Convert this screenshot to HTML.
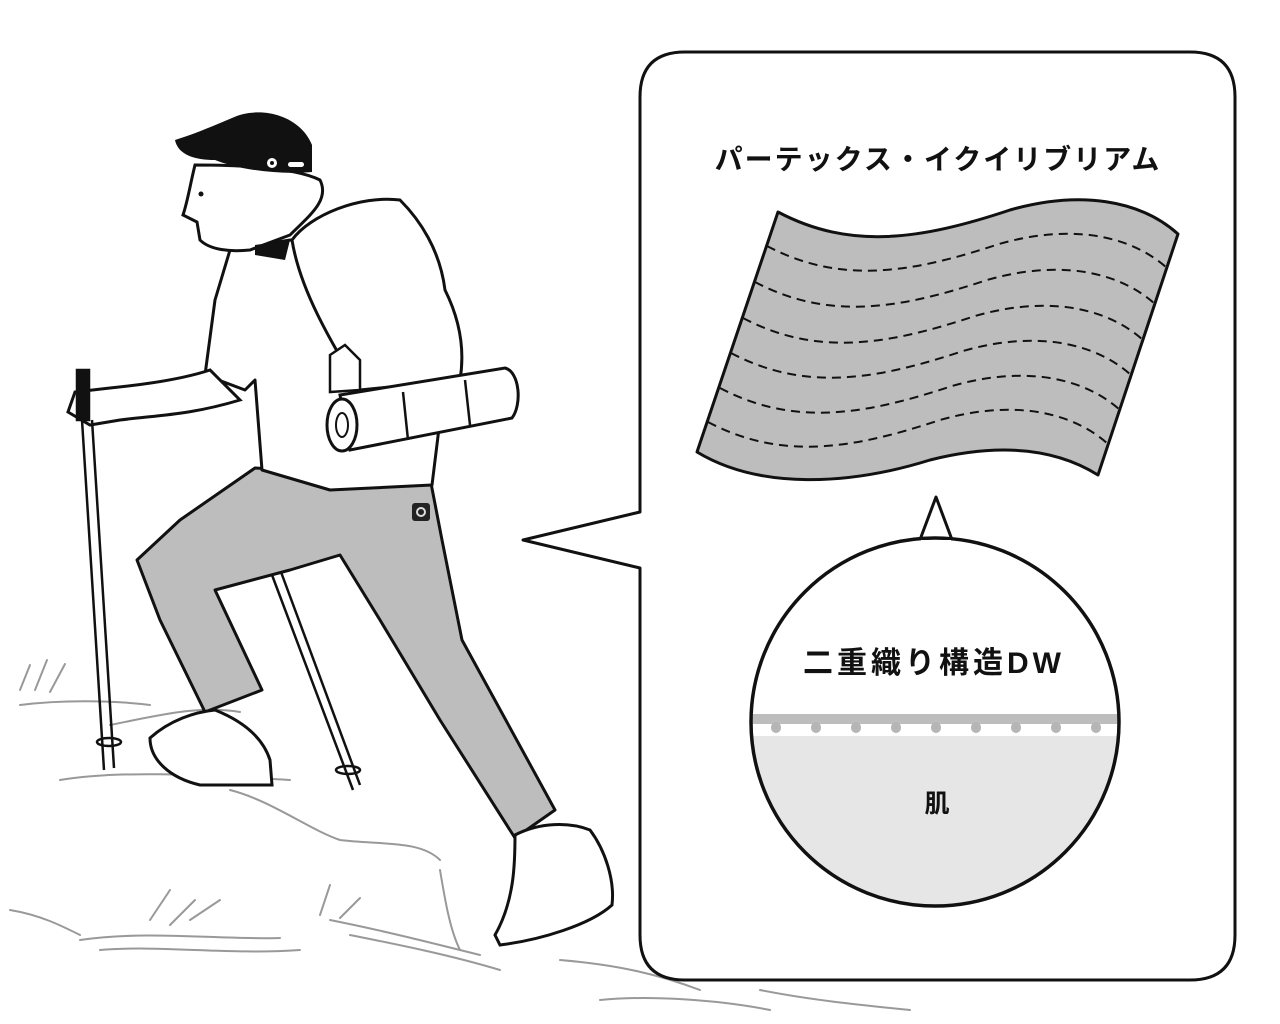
<!DOCTYPE html>
<html><head><meta charset="utf-8"><style>
html,body{margin:0;padding:0;background:#fff;}
svg{display:block;}
text{font-family:"Liberation Sans","Noto Sans CJK JP",sans-serif;font-weight:bold;fill:#111;}
</style></head><body>
<svg width="1280" height="1024" viewBox="0 0 1280 1024" xmlns="http://www.w3.org/2000/svg">
<defs>
<clipPath id="fab"><path d="M778,212 C850,250 920,240 1010,210 C1080,190 1140,200 1178,234 L1098,475 C1050,445 990,445 930,460 C850,485 760,490 697,452 Z"/></clipPath>
<clipPath id="circ"><circle cx="935" cy="722" r="184"/></clipPath>
</defs>

<!-- ground -->
<g fill="none" stroke="#999" stroke-width="2" stroke-linecap="round">
<path d="M20,705 C60,700 110,700 150,705"/>
<path d="M110,725 C160,715 200,705 240,712"/>
<path d="M20,690 l10,-25 M35,690 l12,-30 M50,692 l15,-28"/>
<path d="M60,780 C120,770 200,775 290,780"/>
<path d="M230,790 C270,800 310,830 340,840 C380,845 420,840 440,860"/>
<path d="M440,870 C445,900 450,930 460,950"/>
<path d="M80,940 C150,930 220,940 280,938 M100,950 C160,945 230,955 300,950"/>
<path d="M150,920 l20,-30 M170,925 l25,-25 M190,920 l30,-20 M320,915 l10,-30 M340,918 l20,-20"/>
<path d="M330,920 C380,930 420,940 480,955 M350,935 C400,945 450,955 500,970"/>
<path d="M560,960 C620,965 660,975 700,990 M600,1000 C650,995 720,1000 770,1010 M760,990 C810,1000 860,1005 910,1010"/>
<path d="M10,910 C40,915 60,925 80,935"/>
</g>

<!-- pole 2 -->
<g stroke="#111" stroke-width="2.5" fill="none">
<path d="M272,575 L353,790 M281,572 L360,785"/>
<ellipse cx="348" cy="770" rx="12" ry="4"/>
</g>

<!-- pants -->
<path d="M255,468 L430,478 L442,540 L462,640 L555,810 L515,838 L440,720 L380,620 L340,555 L290,570 L215,590 L262,690 L205,712 L160,620 L137,560 L180,520 Z" fill="#bdbdbd" stroke="#111" stroke-width="3" stroke-linejoin="round"/>
<rect x="412" y="503" width="18" height="18" rx="3" fill="#222"/><circle cx="421" cy="512" r="4" fill="none" stroke="#ddd" stroke-width="2"/>

<!-- shoes -->
<path d="M150,738 C170,720 195,712 215,710 C240,720 262,735 270,760 L272,785 L200,785 C170,778 150,760 150,738 Z" fill="#fff" stroke="#111" stroke-width="3"/>
<path d="M515,835 C540,822 570,822 590,830 C605,850 615,880 612,905 C590,925 540,940 500,945 L495,935 C515,900 515,860 515,835 Z" fill="#fff" stroke="#111" stroke-width="3"/>

<!-- shirt/torso -->
<path d="M230,250 L290,240 L360,250 L420,290 L440,420 L432,485 L330,490 L262,470 L255,380 L245,390 L205,375 L215,300 Z" fill="#fff" stroke="#111" stroke-width="3" stroke-linejoin="round"/>
<!-- arm -->
<path d="M210,370 C180,380 140,385 110,388 L75,392 L68,412 L90,425 L120,420 C160,415 190,415 240,400 Z" fill="#fff" stroke="#111" stroke-width="3"/>

<!-- pole 1 -->
<g stroke="#111" stroke-width="2.5" fill="none">
<rect x="77" y="370" width="12" height="50" fill="#111"/>
<path d="M82,420 L104,770 M92,420 L114,768"/>
<ellipse cx="109" cy="742" rx="12" ry="4"/>
</g>

<!-- backpack -->
<path d="M292,240 C310,215 360,195 400,200 C420,220 440,250 445,290 C460,320 465,350 460,380 L360,390 C330,340 300,290 292,240 Z" fill="#fff" stroke="#111" stroke-width="3"/>
<path d="M330,355 L345,345 L360,360 L360,390 L330,392 Z" fill="#fff" stroke="#111" stroke-width="2.5"/>
<!-- bedroll -->
<path d="M340,395 L505,368 C520,372 522,405 512,418 L350,450 Z" fill="#fff" stroke="#111" stroke-width="3"/>
<ellipse cx="342" cy="425" rx="15" ry="26" fill="#fff" stroke="#111" stroke-width="3"/>
<ellipse cx="342" cy="425" rx="6" ry="12" fill="none" stroke="#111" stroke-width="2"/>
<path d="M403,392 L408,440 M465,380 L470,425" stroke="#111" stroke-width="2.5" fill="none"/>

<!-- head -->
<path d="M195,165 C190,185 188,200 183,215 L197,222 L200,240 C210,250 230,252 250,250 L290,235 C310,215 330,200 320,180 C300,170 260,165 195,165 Z" fill="#fff" stroke="#111" stroke-width="3"/>
<path d="M255,245 L290,240 L285,260 L255,255 Z" fill="#111"/>
<!-- cap -->
<path d="M175,140 C200,132 215,125 232,118 C260,105 300,115 312,145 L312,172 C280,175 240,170 215,160 C195,160 178,155 175,140 Z" fill="#111"/>
<circle cx="272" cy="163" r="5" fill="#fff"/><circle cx="272" cy="163" r="2" fill="#111"/>
<rect x="288" y="162" width="16" height="5" rx="2.5" fill="#fff"/>
<circle cx="201" cy="194" r="2.5" fill="#111"/>

<!-- bubble -->
<path d="M685,52 L1190,52 Q1235,52 1235,97 L1235,935 Q1235,980 1190,980 L685,980 Q640,980 640,935 L640,568 L523,540 L640,512 L640,97 Q640,52 685,52 Z" fill="#fff" stroke="#111" stroke-width="3" stroke-linejoin="round"/>
<text x="938" y="169" font-size="28" letter-spacing="2" text-anchor="middle">パーテックス・イクイリブリアム</text>

<!-- fabric -->
<path d="M778,212 C850,250 920,240 1010,210 C1080,190 1140,200 1178,234 L1098,475 C1050,445 990,445 930,460 C850,485 760,490 697,452 Z" fill="#bdbdbd"/>
<g clip-path="url(#fab)" fill="none" stroke="#111" stroke-width="2" stroke-dasharray="9,6">
<path transform="translate(-11,34)" d="M778,212 C850,250 920,240 1010,210 C1080,190 1140,200 1178,234"/>
<path transform="translate(-23,70)" d="M778,212 C850,250 920,240 1010,210 C1080,190 1140,200 1178,234"/>
<path transform="translate(-35,106)" d="M778,212 C850,250 920,240 1010,210 C1080,190 1140,200 1178,234"/>
<path transform="translate(-47,141)" d="M778,212 C850,250 920,240 1010,210 C1080,190 1140,200 1178,234"/>
<path transform="translate(-58,176)" d="M778,212 C850,250 920,240 1010,210 C1080,190 1140,200 1178,234"/>
<path transform="translate(-70,210)" d="M778,212 C850,250 920,240 1010,210 C1080,190 1140,200 1178,234"/>
</g>
<path d="M778,212 C850,250 920,240 1010,210 C1080,190 1140,200 1178,234 L1098,475 C1050,445 990,445 930,460 C850,485 760,490 697,452 Z" fill="none" stroke="#111" stroke-width="3" stroke-linejoin="round"/>

<!-- circle -->
<path d="M918,545 L936,497 L954,545 Z" fill="#fff" stroke="#111" stroke-width="3" stroke-linejoin="round"/>
<circle cx="935" cy="722" r="184" fill="#fff"/>
<g clip-path="url(#circ)">
<rect x="740" y="736" width="400" height="200" fill="#e6e6e6"/>
<rect x="740" y="714" width="400" height="10" fill="#bdbdbd"/>
<g fill="#b5b5b5">
<rect x="771" y="722" width="10" height="11" rx="5"/><rect x="811" y="722" width="10" height="11" rx="5"/><rect x="851" y="722" width="10" height="11" rx="5"/><rect x="891" y="722" width="10" height="11" rx="5"/><rect x="931" y="722" width="10" height="11" rx="5"/><rect x="971" y="722" width="10" height="11" rx="5"/><rect x="1011" y="722" width="10" height="11" rx="5"/><rect x="1051" y="722" width="10" height="11" rx="5"/><rect x="1091" y="722" width="10" height="11" rx="5"/>
</g>
</g>
<circle cx="935" cy="722" r="184" fill="none" stroke="#111" stroke-width="3.5"/>
<rect x="921" y="540" width="30" height="8" fill="#fff"/>
<text x="934" y="673" font-size="30" letter-spacing="4" text-anchor="middle">二重織り構造DW</text>
<text x="937" y="812" font-size="25" text-anchor="middle">肌</text>
</svg>
</body></html>
